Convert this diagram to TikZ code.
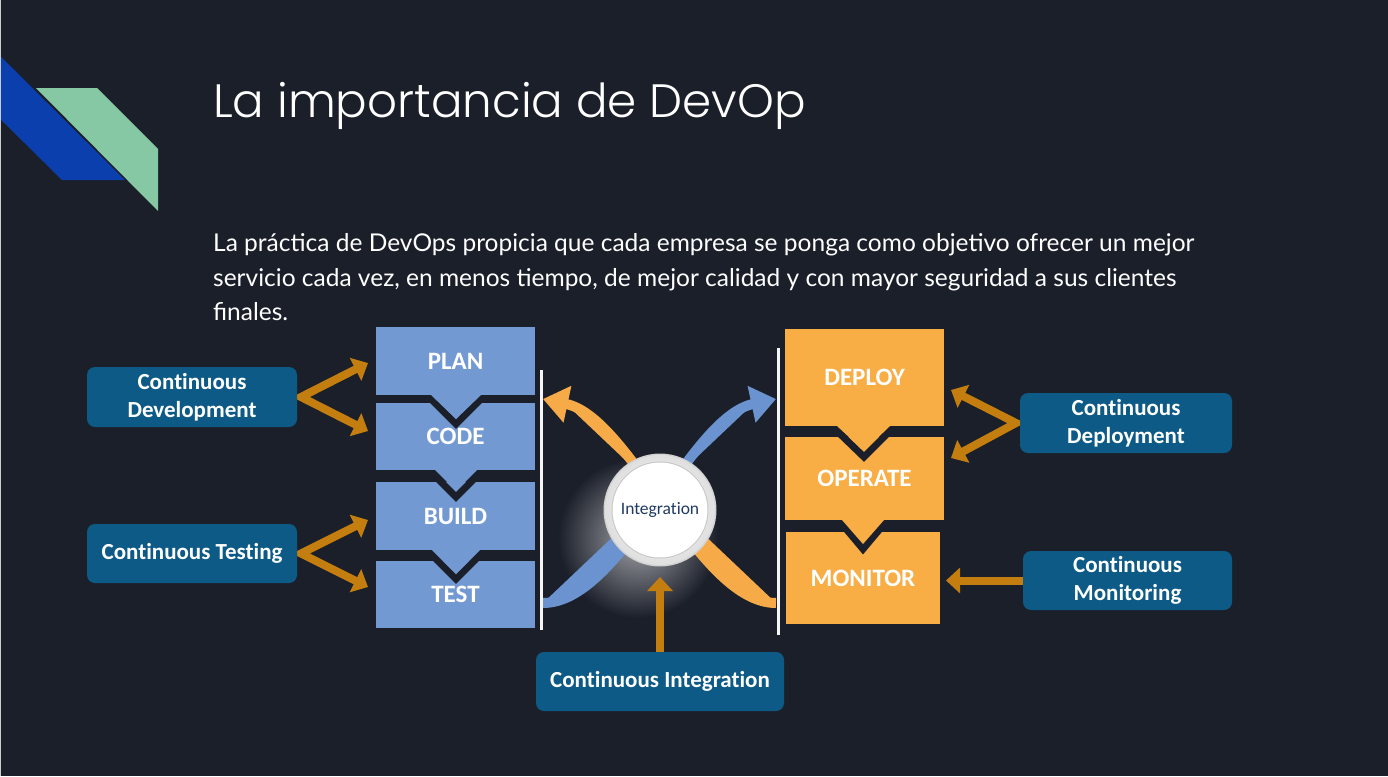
\documentclass[tikz,border=0pt]{standalone}
\usepackage{fontspec}
\setmainfont{Lato}
\newfontfamily\titlefont{Poppins Light}
\newfontfamily\boxfont{Carlito}[Ligatures=NoCommon]
\usetikzlibrary{arrows.meta}
\definecolor{bg}{RGB}{27,31,42}
\definecolor{decoblue}{RGB}{10,63,173}
\definecolor{decogreen}{RGB}{134,200,163}
\definecolor{stepblue}{RGB}{115,153,210}
\definecolor{steporange}{RGB}{248,173,69}
\definecolor{linkorange}{RGB}{196,126,15}
\definecolor{infoteal}{RGB}{12,90,133}
\definecolor{flowblue}{RGB}{107,147,208}
\definecolor{floworange}{RGB}{246,171,72}
\definecolor{intnavy}{RGB}{31,58,99}
\tikzset{
  stepbox/.style={rectangle, inner sep=0pt, text=white, font=\boxfont\bfseries\fontsize{25}{30}\selectfont},
  bluestep/.style={stepbox, fill=stepblue},
  orangestep/.style={stepbox, fill=steporange},
  infobox/.style={rectangle, rounded corners=8pt, fill=infoteal, inner sep=0pt, text=white, align=center,
    font=\boxfont\bfseries\fontsize{23}{27.5}\selectfont},
  link/.style={draw=linkorange, line width=8pt, line join=miter,
    arrows={-Triangle[length=14pt,width=25pt]}},
  duallink/.style={draw=linkorange, line width=8pt, line join=miter,
    arrows={Triangle[length=14pt,width=25pt]-Triangle[length=14pt,width=25pt]}},
  flow/.style={line width=10pt, arrows={-Triangle[length=25pt,width=36pt]}},
  chevron/.style={draw=bg, line width=7pt, line join=miter},
  rail/.style={draw=white!92!gray, line width=3pt},
}
\begin{document}
\begin{tikzpicture}[x=1pt,y=-1pt]
\useasboundingbox (0,0) rectangle (1388,776);
\fill[bg] (0,0) rectangle (1388,776);
\fill[gray!40] (0,0) rectangle (1.2,776);

% corner decoration
\fill[decoblue] (1.2,57) -- (125,180) -- (62,180) -- (1.2,120) -- cycle;
\fill[decogreen] (36,88) -- (97,88) -- (158,149) -- (158,211) -- cycle;

% heading and intro text
\node[anchor=base west, inner sep=0pt, text=white, font=\titlefont\fontsize{46.8}{56}\selectfont]
  (title) at (213,117) {La importancia de DevOp};
\node[anchor=base west, inner sep=0pt, text=white, align=left, font=\fontsize{24.5}{34.3}\selectfont]
  (intro) at (213,320.5) {La práctica de DevOps propicia que cada empresa se ponga como objetivo ofrecer un mejor\\
servicio cada vez, en menos tiempo, de mejor calidad y con mayor seguridad a sus clientes\\
finales.};

% glow behind the integration hub
\shade[inner color=white!60!bg, outer color=bg] (638,538) circle (80);

% crossing flow arrows
\coordinate (blueStart) at (543,603);
\coordinate (blueEnd) at (776,399);
\coordinate (orangeStart) at (776,603);
\coordinate (orangeEnd) at (543,399);
\draw[flow, draw=flowblue, fill=flowblue] (blueStart) .. controls (622,603) and (688,418) .. (blueEnd);
\draw[flow, draw=floworange, fill=floworange] (orangeStart) .. controls (698,603) and (632,418) .. (orangeEnd);

% integration hub
\fill[gray!35] (660,510) circle (56.5);
\shade[inner color=white, outer color=gray!25] (660,510) circle (55);
\fill[gray!45] (660,510) circle (48.5);
\node[circle, fill=white, minimum size=95pt, inner sep=0pt, text=intnavy,
  font=\boxfont\fontsize{17.5}{20}\selectfont] (hub) at (660,510) {Integration};

% development stages
\node[bluestep, minimum width=159pt, minimum height=68pt] (plan) at (455.5,361) {PLAN};
\node[bluestep, minimum width=159pt, minimum height=67pt] (code) at (455.5,436.5) {CODE};
\node[bluestep, minimum width=159pt, minimum height=68pt] (build) at (455.5,516) {BUILD};
\node[bluestep, minimum width=159pt, minimum height=67pt] (test) at (455.5,594.5) {TEST};

% operations stages
\node[orangestep, minimum width=159pt, minimum height=97pt] (deploy) at (864.5,377.5) {DEPLOY};
\node[orangestep, minimum width=159pt, minimum height=83pt] (operate) at (864.5,478.5) {OPERATE};
\node[orangestep, minimum width=154pt, minimum height=92pt] (monitor) at (863,578) {MONITOR};

% chevrons between stages
\draw[chevron] (376,399) -- (431,399) -- (456,424) -- (481,399) -- (535,399);
\fill[stepblue] (431,395) -- (481,395) -- (456,419) -- cycle;
\draw[chevron] (433,474) -- (456,497) -- (479,474);
\fill[stepblue] (435,470) -- (477,470) -- (456,491) -- cycle;
\draw[chevron] (376,555) -- (432,555) -- (456,579) -- (480,555) -- (535,555);
\fill[stepblue] (432,550) -- (480,550) -- (456,574) -- cycle;
\draw[chevron] (785,431) -- (837,431) -- (864,457) -- (890,431) -- (944,431);
\fill[steporange] (837,426) -- (890,426) -- (864,451) -- cycle;
\draw[chevron] (842,524) -- (863,549) -- (884,524);
\fill[steporange] (842,520) -- (884,520) -- (863,544) -- cycle;

% rails beside the stage columns
\coordinate (railLtop) at (541,370);
\coordinate (railLbot) at (541,630);
\coordinate (railRtop) at (778,348);
\coordinate (railRbot) at (778,635);
\draw[rail] (railLtop) -- (railLbot);
\draw[rail] (railRtop) -- (railRbot);

% link end points beside the stages
\coordinate (toPlan) at (368,363);
\coordinate (toCode) at (368,431);
\coordinate (toBuild) at (368,520);
\coordinate (toTest) at (368,587);
\coordinate (toDeploy) at (951,390);
\coordinate (toOperate) at (951,458);
\coordinate (toMonitor) at (946,580.5);
\coordinate (toHub) at (660,577);

% links (drawn under the practice boxes)
\coordinate (cdevE) at (301,397);
\coordinate (ctestE) at (301,553.5);
\coordinate (cdepW) at (1016,423);
\draw[duallink] (toPlan) -- (cdevE) -- (toCode);
\draw[duallink] (toBuild) -- (ctestE) -- (toTest);
\draw[duallink] (toDeploy) -- (cdepW) -- (toOperate);

% continuous practices
\node[infobox, minimum width=210pt, minimum height=60pt] (cdev) at (192,397) {Continuous\\Development};
\node[infobox, minimum width=210pt, minimum height=59pt] (ctest) at (192,553.5) {Continuous Testing};
\node[infobox, minimum width=212pt, minimum height=60pt] (cdep) at (1126,423) {Continuous\\Deployment};
\node[infobox, minimum width=209pt, minimum height=59pt] (cmon) at (1127.5,580.5) {Continuous\\Monitoring};
\node[infobox, minimum width=248pt, minimum height=59pt] (cint) at (660,681.5) {Continuous Integration};

\draw[link] (cmon.west) -- (toMonitor);
\draw[link] (cint.north) -- (toHub);
\end{tikzpicture}
\end{document}
